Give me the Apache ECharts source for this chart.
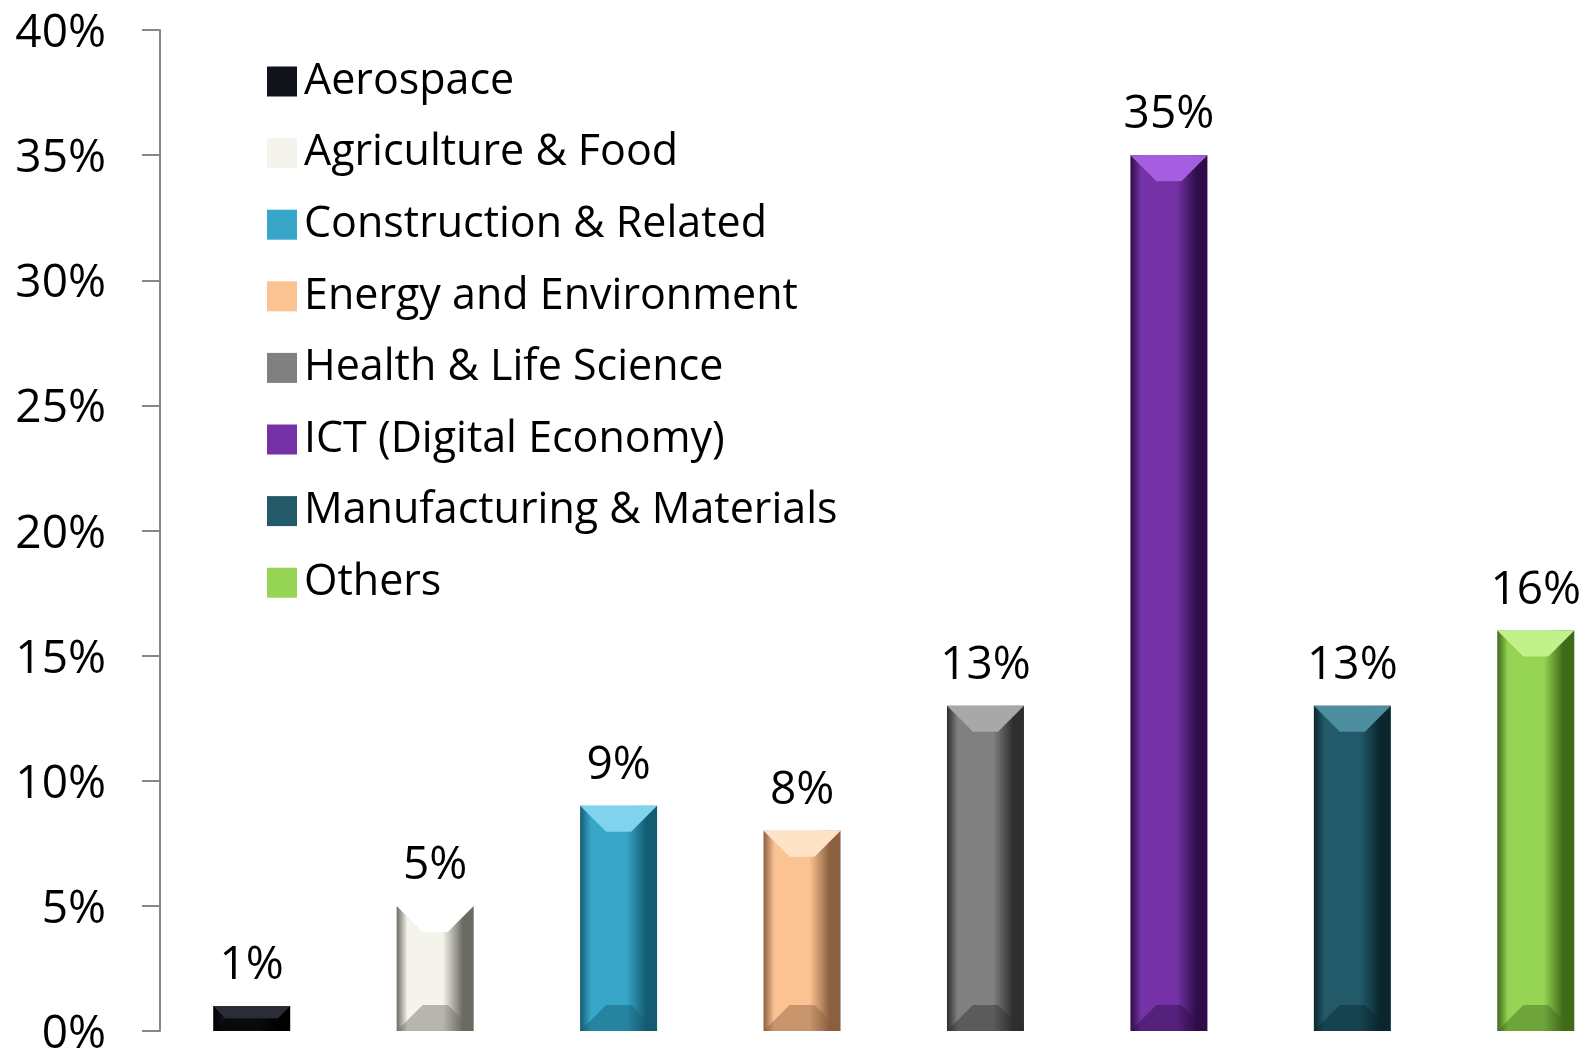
<!DOCTYPE html>
<html>
<head>
<meta charset="utf-8">
<script src="https://cdn.jsdelivr.net/npm/echarts@6/dist/echarts.min.js"></script>
<style>
  html, body { margin: 0; padding: 0; background: #fff; }
  #chart { width: 1589px; height: 1053px; }
</style>
</head>
<body>
<div id="chart"></div>
<script>
const categories = ['Aerospace', 'Agriculture & Food', 'Construction & Related', 'Energy and Environment',
  'Health & Life Science', 'ICT (Digital Economy)', 'Manufacturing & Materials', 'Others']
const shares = [1, 5, 9, 8, 13, 35, 13, 16]
const yTicks = [0, 5, 10, 15, 20, 25, 30, 35, 40]

// base, light (top bevel), dark (side shading)
const colors = ['#10131a', '#f4f4ec', '#38a6c8', '#fbc292', '#808080', '#7432a6', '#225a6a', '#96d454']
const lights = ['#2a2d35', '#ffffff', '#7fd3ec', '#ffe3c6', '#a8a8a8', '#a65ee0', '#4d8fa1', '#c2f08a']
const darks = ['#000000', '#6a6a62', '#145c72', '#8a6040', '#2e2e2e', '#2e0d48', '#0a262e', '#3e6a1a']

const FONT = '"Open Sans", sans-serif'

const chart = echarts.init(document.getElementById('chart'))

function makeRender(idx) {
  return function (params, api) {
    const val = api.value(1)
    const base = api.coord([idx, 0])
    const top = api.coord([idx, val])
    const w = 77
    const x0 = base[0] - w / 2
    const x1 = base[0] + w / 2
    const y0 = top[1]
    const y1 = base[1]
    const h = y1 - y0
    const b = Math.min(26, h / 2)
    return {
      type: 'group',
      children: [
        {
          type: 'rect',
          shape: { x: x0, y: y0, width: w, height: h },
          style: {
            fill: new echarts.graphic.LinearGradient(0, 0, 1, 0, [
              { offset: 0, color: darks[idx] },
              { offset: 0.14, color: colors[idx] },
              { offset: 0.6, color: colors[idx] },
              { offset: 0.86, color: darks[idx] },
              { offset: 1, color: darks[idx] }
            ])
          }
        },
        {
          type: 'polygon',
          shape: { points: [[x0, y0], [x1, y0], [x1 - b, y0 + b], [x0 + b, y0 + b]] },
          style: { fill: lights[idx] }
        },
        {
          type: 'polygon',
          shape: { points: [[x0, y1], [x1, y1], [x1 - b, y1 - b], [x0 + b, y1 - b]] },
          style: { fill: darks[idx], opacity: 0.45 }
        },
        {
          type: 'text',
          style: {
            text: val + '%',
            x: base[0],
            y: y0 - 17,
            align: 'center',
            verticalAlign: 'bottom',
            fontFamily: FONT,
            fontSize: 46,
            fill: '#000'
          }
        }
      ]
    }
  }
}

const series = categories.map((name, i) => ({
  name: name,
  type: 'custom',
  renderItem: makeRender(i),
  itemStyle: { color: colors[i] },
  encode: { x: 0, y: 1 },
  data: [[i, shares[i]]]
}))

chart.setOption({
  animation: false,
  backgroundColor: '#fff',
  grid: { left: 160, right: 0, top: 30, bottom: 22, outerBoundsMode: 'none', containLabel: false },
  legend: {
    orient: 'vertical',
    left: 262,
    top: 55,
    icon: 'rect',
    itemWidth: 30,
    itemHeight: 30,
    itemGap: 28.6,
    textStyle: { fontFamily: FONT, fontSize: 43, color: '#000', padding: [0, 0, 0, 2] },
    data: categories
  },
  xAxis: {
    type: 'value',
    min: -0.5,
    max: 7.29,
    show: false
  },
  yAxis: {
    type: 'value',
    min: 0,
    max: 40,
    interval: 5,
    axisLine: { show: true, onZero: false, lineStyle: { color: '#868686', width: 2 } },
    axisTick: { show: true, inside: false, length: 18, lineStyle: { color: '#868686', width: 2 } },
    splitLine: { show: false },
    axisLabel: {
      margin: 54,
      fontFamily: FONT,
      fontSize: 46,
      color: '#000',
      verticalAlign: 'top',
      padding: [-19, 0, 0, 0],
      formatter: v => yTicks.includes(v) ? v + '%' : ''
    }
  },
  series: series
})
</script>
</body>
</html>
